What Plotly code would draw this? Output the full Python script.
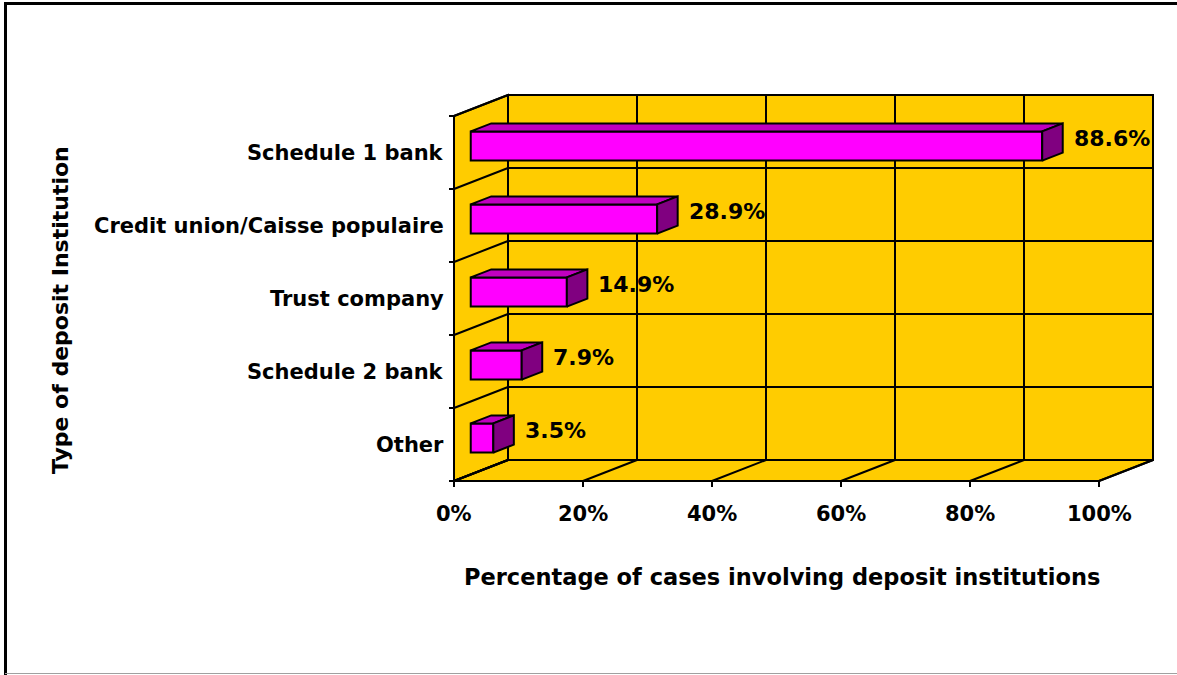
import plotly.graph_objects as go

# ---------------- data ----------------
categories = ["Other", "Schedule 2 bank", "Trust company",
              "Credit union/Caisse populaire", "Schedule 1 bank"]
values = [3.5, 7.9, 14.9, 28.9, 88.6]
value_labels = ["3.5%", "7.9%", "14.9%", "28.9%", "88.6%"]
x_ticks = [0, 20, 40, 60, 80, 100]
x_tick_labels = ["0%", "20%", "40%", "60%", "80%", "100%"]
x_title = "Percentage of cases involving deposit institutions"
y_title = "Type of deposit Institution"

# ---------------- geometry / style ----------------
W, H = 1177, 675
PX_X = 6.45          # pixels per percent on front plane
PX_Y = 73.0          # pixels per category band
X0_PX, Y0_PX = 454, 481
DX = 54 / PX_X       # depth offset in x units
DY = 21 / PX_Y       # depth offset in y units
D1, D2 = 0.31, 0.69  # bar depth (front, back)
BAR_W = 0.40
N = len(categories)
XMAX = 100
LW = 2

WALL = "#FFCC00"
FRONT = "#FF00FF"
TOP = "#C000C0"
SIDE = "#800080"
FONT = "DejaVu Sans"

fig = go.Figure()
shapes = []


def line(x0, y0, x1, y1, w=LW, color="black", layer="below"):
    shapes.append(dict(type="line", xref="x", yref="y", x0=x0, y0=y0, x1=x1, y1=y1,
                       line=dict(color=color, width=w), layer=layer))


def poly(pts, fill, layer="below"):
    path = "M " + " L ".join(f"{x},{y}" for x, y in pts) + " Z"
    shapes.append(dict(type="path", xref="x", yref="y", path=path, fillcolor=fill,
                       line=dict(color="black", width=LW), layer=layer))


# walls
poly([(DX, DY), (XMAX + DX, DY), (XMAX + DX, N + DY), (DX, N + DY)], WALL)
poly([(0, 0), (0, N), (DX, N + DY), (DX, DY)], WALL)
poly([(0, 0), (XMAX, 0), (XMAX + DX, DY), (DX, DY)], WALL)

# gridlines on back wall, floor, side wall
for t in x_ticks:
    line(t + DX, DY, t + DX, N + DY)
    line(t, 0, t + DX, DY)                     # floor
    line(t, 0, t, -6 / PX_Y)                   # tick
for k in range(N + 1):
    line(DX, k + DY, XMAX + DX, k + DY)
    line(0, k, DX, k + DY)                     # side wall
    line(0, k, -5 / PX_X, k)                   # tick
line(0, 0, 0, N)
line(0, 0, XMAX, 0)

# bars: front faces as real bars
yc = [i + 0.5 for i in range(N)]
fig.add_trace(go.Bar(
    orientation="h",
    y=[c + D1 * DY for c in yc],
    x=values,
    base=D1 * DX,
    width=BAR_W,
    marker=dict(color=FRONT, line=dict(color="black", width=LW)),
    hovertext=categories,
    showlegend=False,
))

h = BAR_W / 2
for c, v in zip(yc, values):
    top = [(D1 * DX, c + h + D1 * DY), (D1 * DX + v, c + h + D1 * DY),
           (D2 * DX + v, c + h + D2 * DY), (D2 * DX, c + h + D2 * DY)]
    side = [(D1 * DX + v, c - h + D1 * DY), (D1 * DX + v, c + h + D1 * DY),
            (D2 * DX + v, c + h + D2 * DY), (D2 * DX + v, c - h + D2 * DY)]
    for pts, col in ((top, TOP), (side, SIDE)):
        fig.add_trace(go.Scatter(
            x=[p[0] for p in pts] + [pts[0][0]],
            y=[p[1] for p in pts] + [pts[0][1]],
            mode="lines", fill="toself", fillcolor=col,
            line=dict(color="black", width=LW),
            hoverinfo="skip", showlegend=False,
        ))

annotations = []
# value labels
for c, v, lab in zip(yc, values, value_labels):
    annotations.append(dict(x=D2 * DX + v + 9 / PX_X, y=c + D2 * DY, text=lab,
                            xanchor="left", yanchor="middle", showarrow=False,
                            font=dict(family=FONT, size=22, color="black", weight="bold")))
# category labels
for c, lab in zip(yc, categories):
    annotations.append(dict(x=-8 / PX_X, y=c, text=lab, xanchor="right", yanchor="middle",
                            showarrow=False,
                            font=dict(family=FONT, size=21, color="black", weight="bold")))
# x tick labels
for t, lab in zip(x_ticks, x_tick_labels):
    annotations.append(dict(x=t, y=-33 / PX_Y, text=lab, xanchor="center", yanchor="middle",
                            showarrow=False,
                            font=dict(family=FONT, size=21, color="black", weight="bold")))
# axis titles
annotations.append(dict(x=(782 - X0_PX) / PX_X, y=(Y0_PX - 577) / PX_Y, text=x_title,
                        xanchor="center", yanchor="middle", showarrow=False,
                        font=dict(family=FONT, size=22.5, color="black", weight="bold")))
annotations.append(dict(x=(60 - X0_PX) / PX_X, y=(Y0_PX - 310) / PX_Y, text=y_title,
                        textangle=-90, xanchor="center", yanchor="middle", showarrow=False,
                        font=dict(family=FONT, size=22, color="black", weight="bold")))

# outer frame (paper coords)
def pline(x0, y0, x1, y1, w, color):
    shapes.append(dict(type="line", xref="paper", yref="paper",
                       x0=x0 / W, y0=1 - y0 / H, x1=x1 / W, y1=1 - y1 / H,
                       line=dict(color=color, width=w), layer="above"))

pline(4, 3.5, W, 3.5, 3, "black")
pline(5.5, 2, 5.5, H, 3, "black")
pline(5, 673.5, W, 673.5, 1, "#a0a0a0")

fig.update_layout(
    width=W, height=H, autosize=False,
    margin=dict(l=0, r=0, t=0, b=0),
    paper_bgcolor="white", plot_bgcolor="white",
    xaxis=dict(range=[-X0_PX / PX_X, (W - X0_PX) / PX_X], visible=False, fixedrange=True),
    yaxis=dict(range=[(Y0_PX - H) / PX_Y, Y0_PX / PX_Y], visible=False, fixedrange=True),
    shapes=shapes, annotations=annotations,
    showlegend=False,
)

fig.write_html("out.html")
